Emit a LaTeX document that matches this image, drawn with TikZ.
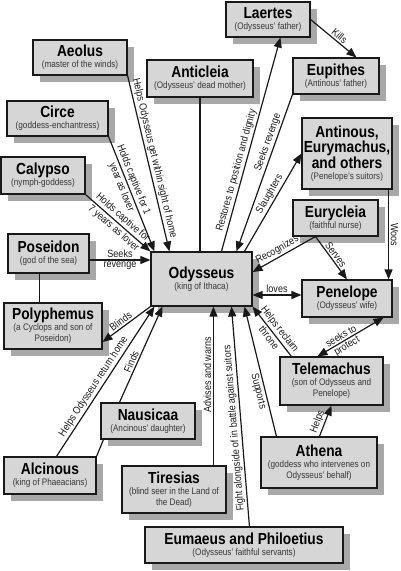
\documentclass[tikz,border=0pt]{standalone}
\usepackage{fontspec}
\setmainfont{Liberation Sans}[FakeStretch=0.86]
\usetikzlibrary{arrows.meta,shadows,calc}
\definecolor{boxfill}{RGB}{214,214,214}
\definecolor{shadowc}{RGB}{168,168,168}
\definecolor{subc}{RGB}{55,55,55}
\definecolor{linec}{RGB}{25,25,25}
\newcommand\mytitle[1]{{\fontsize{16}{16.5}\selectfont\bfseries #1}}
\newcommand\mysub[1]{{\color{subc}\fontsize{9.5}{11}\selectfont #1}}
\begin{document}
\begin{tikzpicture}[x=1pt,y=-1pt,
  box/.style={draw=linec, line width=1.1pt, fill=boxfill, align=center, inner sep=1pt,
    font=\fontsize{9.5}{11}\selectfont,
    drop shadow={shadow xshift=7pt, shadow yshift=-7pt, fill=shadowc, opacity=1}},
  conn/.style={draw=linec, line width=1.2pt},
  arr/.style={conn, -{Triangle[length=10pt,width=8pt]}},
  darr/.style={conn, {Triangle[length=10pt,width=8pt]}-{Triangle[length=10pt,width=8pt]}},
  lblns/.style={font=\fontsize{10.5}{12}\selectfont, inner sep=1.5pt, text=linec},
  lbl/.style={lblns, sloped}
]
\useasboundingbox (0,0) rectangle (400,571);

% boxes
\node[box, minimum width=84pt, minimum height=35pt] (laertes) at (268,19.5) {\mytitle{Laertes}\\\mysub{(Odysseus' father)}};
\node[box, minimum width=94pt, minimum height=35pt] (aeolus) at (80,57.5) {\mytitle{Aeolus}\\\mysub{(master of the winds)}};
\node[box, minimum width=106pt, minimum height=37pt] (anticleia) at (200,78.5) {\mytitle{Anticleia}\\\mysub{(Odysseus' dead mother)}};
\node[box, minimum width=86pt, minimum height=36pt] (eupithes) at (336,76) {\mytitle{Eupithes}\\\mysub{(Antinous' father)}};
\node[box, minimum width=101pt, minimum height=35pt] (circe) at (57.5,118.5) {\mytitle{Circe}\\\mysub{(goddess-enchantress)}};
\node[box, minimum width=90pt, minimum height=71pt] (antinous) at (347,153.5) {\mytitle{Antinous,}\\\mytitle{Eurymachus,}\\\mytitle{and others}\\\mysub{(Penelope's suitors)}};
\node[box, minimum width=84pt, minimum height=37pt] (calypso) at (43,175.5) {\mytitle{Calypso}\\\mysub{(nymph-goddess)}};
\node[box, minimum width=85pt, minimum height=36pt] (eurycleia) at (335.5,218) {\mytitle{Eurycleia}\\\mysub{(faithful nurse)}};
\node[box, minimum width=81pt, minimum height=39pt] (poseidon) at (48.5,253.5) {\mytitle{Poseidon}\\\mysub{(god of the sea)}};
\node[box, minimum width=101pt, minimum height=54pt] (odysseus) at (201.5,279) {\mytitle{Odysseus}\\\mysub{(king of Ithaca)}};
\node[box, minimum width=90pt, minimum height=37pt] (penelope) at (347,298.5) {\mytitle{Penelope}\\\mysub{(Odysseus' wife)}};
\node[box, minimum width=98pt, minimum height=46pt] (polyphemus) at (53,326) {\mytitle{Polyphemus}\\\mysub{(a Cyclops and son of}\\\mysub{Poseidon)}};
\node[box, minimum width=103pt, minimum height=48pt] (telemachus) at (331.5,381) {\mytitle{Telemachus}\\\mysub{(son of Odysseus and}\\\mysub{Penelope)}};
\node[box, minimum width=94pt, minimum height=36pt] (nausicaa) at (148,421) {\mytitle{Nausicaa}\\\mysub{(Ancinous' daughter)}};
\node[box, minimum width=116pt, minimum height=51pt] (athena) at (319,462.5) {\mytitle{Athena}\\\mysub{(goddess who intervenes on}\\\mysub{Odysseus' behalf)}};
\node[box, minimum width=92pt, minimum height=37pt] (alcinous) at (50,475.5) {\mytitle{Alcinous}\\\mysub{(king of Phaeacians)}};
\node[box, minimum width=104pt, minimum height=47pt] (tiresias) at (174,489.5) {\mytitle{Tiresias}\\\mysub{(blind seer in the Land of}\\\mysub{the Dead)}};
\node[box, minimum width=198pt, minimum height=36pt] (eumaeus) at (244,545) {\mytitle{Eumaeus and Philoetius}\\\mysub{(Odysseus' faithful servants)}};

% connectors
\draw[arr] (laertes.east) -- ([xshift=64pt]eupithes.north west) node[lbl, pos=0.55, above] {Kills};
\draw[arr] ([xshift=71pt]odysseus.north west) -- ([xshift=55pt]laertes.south west) node[lbl, pos=0.37, above] {Restores to position and dignity};
\draw[arr] (eupithes.south west) -- ([xshift=86pt]odysseus.north west) node[lbl, pos=0.32, above] {Seeks revenge};
\draw[arr] ([xshift=94pt]odysseus.north west) -- (antinous.west) node[lbl, pos=0.55, above] {Slaughters};
\draw[arr] ([xshift=-4pt]antinous.south east) -- ([xshift=-4pt]penelope.north east) node[lblns, midway, rotate=-90, anchor=south] {Woos};
\draw[arr] ([xshift=23pt]eurycleia.south west) -- ([yshift=7pt]odysseus.east) node[lbl, pos=0.55, above] {Recognizes};
\draw[arr] ([xshift=23pt]eurycleia.south west) -- (penelope.north) node[lbl, pos=0.5, above] {Serves};
\coordinate (lovesA) at ([yshift=-16pt]odysseus.east);
\draw[darr] (lovesA) -- (lovesA -| penelope.west) node[lblns, midway, above] {loves};
\draw[darr] ([xshift=-9pt]penelope.south east) -- ([xshift=38pt]telemachus.north west) node[lbl, pos=0.6, above] {seeks to} node[lbl, pos=0.6, below] {protect};
\draw[arr] ([xshift=12pt]telemachus.north west) -- (odysseus.south east) node[lbl, pos=0.45, above] {Helps reclaim} node[lbl, pos=0.45, below] {throne};
\draw[arr] ([xshift=59pt]athena.north west) -- ([xshift=52pt]telemachus.south west) node[lbl, pos=0.4, above] {Helps};
\draw[arr] ([xshift=16pt]athena.north west) -- ([xshift=94pt]odysseus.south west) node[lbl, pos=0.36, below] {Supports};
\draw[arr] ([xshift=105pt]eumaeus.north west) -- ([xshift=81pt]odysseus.south west) node[lbl, pos=0.45, above, allow upside down] {Fight alongside of in battle against suitors};
\coordinate (tirA) at ([xshift=92pt]tiresias.north west);
\draw[arr] (tirA) -- (tirA |- odysseus.south) node[lblns, pos=0.57, rotate=90, anchor=south] {Advises and warns};
\draw[arr] (odysseus.south west) -- ([yshift=-16pt]polyphemus.east) node[lbl, pos=0.55, above] {Blinds};
\draw[arr] ([xshift=53pt]alcinous.north west) -- ([xshift=4pt]odysseus.south west) node[lbl, pos=0.44, above] {Helps Odysseus return home};
\draw[arr] ([xshift=19pt]nausicaa.north west) -- ([xshift=12pt]odysseus.south west) node[lbl, pos=0.4, above] {Finds};
\draw[conn] (alcinous.north east) -- ([xshift=3pt]nausicaa.south west);
\coordinate (posA) at ([yshift=-6.5pt]poseidon.east);
\draw[arr] (posA) -- (posA -| odysseus.west) node[lblns, midway, above] {Seeks} node[lblns, midway, below] {revenge};
\coordinate (posB) at ([xshift=32pt]poseidon.south west);
\draw[conn] (posB) -- (posB |- polyphemus.north);
\draw[arr] (calypso.south east) -- (odysseus.north west) node[lbl, midway, above] {Holds captive for} node[lbl, midway, below] {7 years as lover};
\draw[arr] (circe.south east) -- ([xshift=4pt]odysseus.north west) node[lbl, pos=0.4, above] {Holds captive for 1} node[lbl, pos=0.42, below] {year as lover};
\draw[arr] (aeolus.south east) -- ([xshift=19pt]odysseus.north west) node[lbl, pos=0.48, above] {Helps Odysseus get within sight of home};
\draw[conn] (anticleia.south) -- (anticleia.south |- odysseus.north);
\end{tikzpicture}
\end{document}
